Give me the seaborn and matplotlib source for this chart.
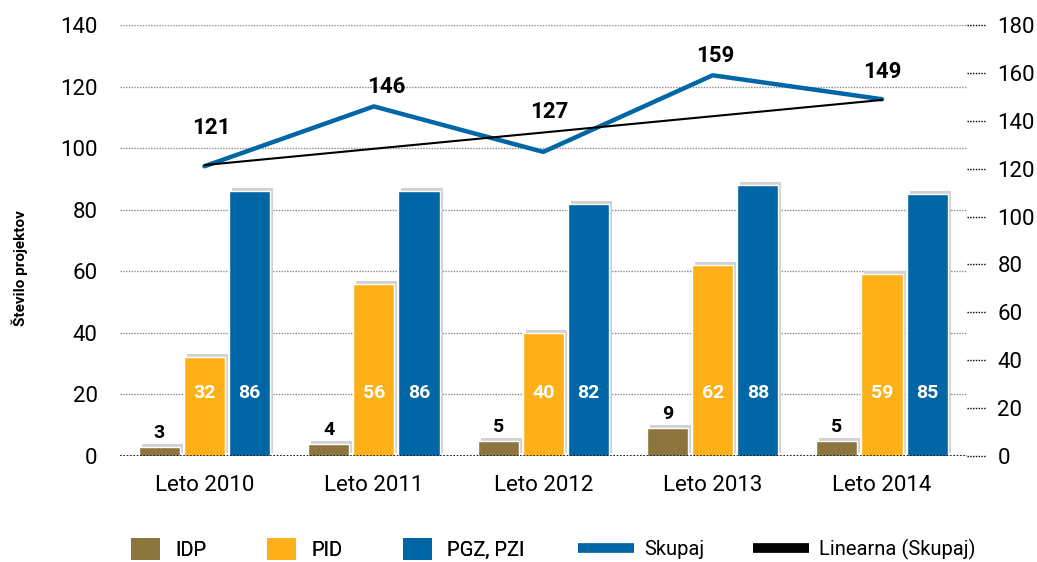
import numpy as np
import pandas as pd
import matplotlib
matplotlib.use("Agg")
import matplotlib.pyplot as plt
import matplotlib.transforms as mtransforms
from matplotlib.patches import Rectangle, Patch
from matplotlib.lines import Line2D
import seaborn as sns

# ---- data ----
years = ["Leto 2010", "Leto 2011", "Leto 2012", "Leto 2013", "Leto 2014"]
series_names = ["IDP", "PID", "PGZ, PZI"]
idp = [3, 4, 5, 9, 5]
pid = [32, 56, 40, 62, 59]
pgz = [86, 86, 82, 88, 85]
skupaj = [121, 146, 127, 159, 149]
trend_ends = [121.5, 148.7]          # Linearna (Skupaj), first and last year
left_ticks = [0, 20, 40, 60, 80, 100, 120, 140]
right_ticks = [0, 20, 40, 60, 80, 100, 120, 140, 160, 180]

# ---- style ----
C_IDP, C_PID, C_PGZ = "#8C763F", "#FDB018", "#0066A6"
SHADOW = "#D2D2D2"
sns.set_style("white", {"text.color": "black", "xtick.color": "black",
                        "ytick.color": "black", "axes.labelcolor": "black"})
plt.rcParams["font.family"] = ["Roboto", "DejaVu Sans"]

df = pd.DataFrame({
    "Leto": years * 3,
    "Serija": [series_names[0]] * 5 + [series_names[1]] * 5 + [series_names[2]] * 5,
    "value": idp + pid + pgz,
})

fig = plt.figure(figsize=(10.37, 5.62), dpi=100)
ax = fig.add_axes([119.75 / 1037, 1 - 456 / 562, 847 / 1037, 431 / 562])

sns.barplot(data=df, x="Leto", y="value", hue="Serija", order=years,
            hue_order=series_names, palette=[C_IDP, C_PID, C_PGZ],
            saturation=1, width=0.8, gap=0.09, ax=ax, legend=False, zorder=3)

# shadows behind bars
shadow_tr = mtransforms.offset_copy(ax.transData, fig=fig, x=3, y=3, units="dots")
for p in list(ax.patches):
    r = Rectangle((p.get_x(), p.get_y()), p.get_width(), p.get_height(),
                  facecolor=SHADOW, edgecolor="none", transform=shadow_tr, zorder=2)
    ax.add_patch(r)

# bar labels
for ci, cont in enumerate(ax.containers):
    for bar, v in zip(cont.patches, [idp, pid, pgz][ci]):
        xc = bar.get_x() + bar.get_width() / 2
        if ci == 0:
            ax.annotate(f"{v}", (xc, bar.get_height()), xytext=(0, 14),
                        textcoords="offset pixels", ha="center", va="center",
                        fontsize=14, fontweight="bold", color="black", zorder=5)
        else:
            ax.annotate(f"{v}", (xc, 0), xytext=(0, 63),
                        textcoords="offset pixels", ha="center", va="center",
                        fontsize=14, fontweight="bold", color="white", zorder=5)

ax.set_xlim(-0.5, len(years) - 0.5)
ax.set_ylim(0, 140)
ax.set_yticks(left_ticks)
ax.set_axisbelow(True)
ax.yaxis.grid(True, linestyle=(0, (1, 1)), color="#8a8a8a", linewidth=1.0)
for s in ax.spines.values():
    s.set_visible(False)
ax.tick_params(axis="y", length=0, pad=16, labelsize=16, labelcolor="black")
ax.tick_params(axis="x", length=0, pad=14, labelsize=16, labelcolor="black")
ax.set_xlabel("")
ax.set_ylabel("Število projektov", fontsize=11, fontweight="bold", color="black")
ax.yaxis.set_label_coords(-0.108, 0.436)

# secondary axis with total line and trend
ax2 = ax.twinx()
xi = np.arange(len(years))
sns.lineplot(x=xi, y=skupaj, ax=ax2, color=C_PGZ, linewidth=3.2, zorder=6)
sns.lineplot(x=[xi[0], xi[-1]], y=trend_ends, ax=ax2, color="black", linewidth=1.5, zorder=7)
ax2.set_ylim(0, 180)
ax2.set_xlim(-0.5, len(years) - 0.5)
ax2.set_yticks(right_ticks)
ax2.tick_params(axis="y", length=0, pad=22, labelsize=16, labelcolor="black")
for s in ax2.spines.values():
    s.set_visible(False)
ax2.grid(False)
# dotted tick marks outside right
ax2.hlines(right_ticks, 1.0, 1.023, transform=ax2.get_yaxis_transform(),
           colors="black", linestyles=(0, (1, 1)), linewidth=1.0, clip_on=False)
# baseline dotted
ax.axhline(0, color="black", linestyle=(0, (1, 1)), linewidth=1.2, zorder=4)

label_offsets = [(7, 38), (12, 19), (6, 40), (3, 19), (0, 27)]
for x, v, off in zip(xi, skupaj, label_offsets):
    ax2.annotate(f"{v}", (x, v), xytext=off, textcoords="offset pixels",
                 ha="center", va="center", fontsize=16, fontweight="bold",
                 color="black", zorder=8)

# legends
bar_handles = [Patch(facecolor=c, edgecolor="none") for c in (C_IDP, C_PID, C_PGZ)]
leg1 = fig.legend(bar_handles, series_names, loc="center left",
                  bbox_to_anchor=(131 / 1037, 1 - 549 / 562), ncol=3, frameon=False,
                  fontsize=14.5, handlelength=1.45, handleheight=1.35,
                  handletextpad=0.75, columnspacing=3.0, borderpad=0, borderaxespad=0)
line_handles = [Line2D([], [], color=C_PGZ, linewidth=7, solid_capstyle="butt"),
                Line2D([], [], color="black", linewidth=7, solid_capstyle="butt")]
fig.legend(line_handles, ["Skupaj", "Linearna (Skupaj)"], loc="center left",
           bbox_to_anchor=(578 / 1037, 1 - 549 / 562), ncol=2, frameon=False,
           fontsize=14.5, handlelength=2.8, handletextpad=0.5, columnspacing=2.4,
           borderpad=0, borderaxespad=0)
fig.add_artist(leg1)

fig.savefig("out.png", dpi=100)
